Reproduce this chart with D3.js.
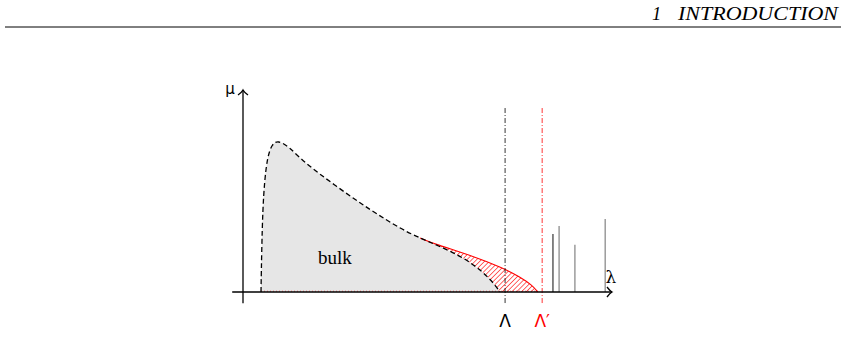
<!DOCTYPE html>
<html>
<head>
<meta charset="utf-8">
<script src="https://cdn.jsdelivr.net/npm/d3@7"></script>
<style>
  body { margin: 0; background: #fff; }
  svg { display: block; }
</style>
</head>
<body>
<div id="chart-area"></div>
<script>
// spectrum sketch: bulk density, outliers, edges
const bulkX = [0.5, 0.52, 0.55, 0.6, 0.68, 0.8, 0.97, 1.3, 1.67, 2.61, 3.53, 4.44, 4.92, 5.39, 6.11, 6.67, 7.0, 7.14];
const bulkY = [0, 1.2, 2.3, 3.1, 3.75, 4.1, 4.22, 4.02, 3.62, 2.92, 2.28, 1.72, 1.5, 1.3, 0.97, 0.56, 0.2, 0];
const shiftX = [4.92, 5.39, 6.31, 7.22, 7.69, 8.03, 8.19];
const shiftY = [1.5, 1.31, 1.03, 0.67, 0.42, 0.19, 0];
const spikeX = [8.61, 8.78, 9.22, 10.06];
const spikeY = [1.61, 1.83, 1.31, 2.03];
const spikeColor = ["#222", "#777", "#777", "#777"];
const edges = [7.28, 8.31];
const edgeLabels = ["Λ", "Λ′"];
const edgeColors = ["#000", "#ff0000"];

const width = 848, height = 355;

const svg = d3.select("#chart-area")
  .append("svg")
    .attr("width", width)
    .attr("height", height);

const x = d3.scaleLinear().domain([0, 10]).range([243, 603]);
const y = d3.scaleLinear().domain([0, 5]).range([292, 112]);

// header
svg.append("line")
    .attr("x1", 5).attr("x2", 841)
    .attr("y1", 27).attr("y2", 27)
    .attr("stroke", "#000").attr("stroke-width", 1);

svg.append("text")
    .attr("x", 652).attr("y", 20)
    .style("font-family", "'Liberation Serif', serif")
    .style("font-style", "italic")
    .style("font-size", "18.5px")
    .text("1");
svg.append("text")
    .attr("x", 678).attr("y", 20)
    .attr("textLength", 160)
    .attr("lengthAdjust", "spacingAndGlyphs")
    .style("font-family", "'Liberation Serif', serif")
    .style("font-style", "italic")
    .style("font-size", "18.5px")
    .text("INTRODUCTION");

const defs = svg.append("defs");
const hatch = defs.append("pattern")
    .attr("id", "hatch")
    .attr("patternUnits", "userSpaceOnUse")
    .attr("width", 3.4).attr("height", 3.4)
    .attr("patternTransform", "rotate(45)");
hatch.append("line")
    .attr("x1", 0).attr("x2", 0)
    .attr("y1", 0).attr("y2", 3.4)
    .attr("stroke", "#ff0000").attr("stroke-width", 1.2);

const bulk = bulkX.map((d, i) => [d, bulkY[i]]);
const shifted = shiftX.map((d, i) => [d, shiftY[i]]);

const area = d3.area()
    .x(d => x(d[0]))
    .y0(y(0))
    .y1(d => y(d[1]))
    .curve(d3.curveBasis);
const line = d3.line()
    .x(d => x(d[0]))
    .y(d => y(d[1]))
    .curve(d3.curveBasis);

// hatched region under the shifted edge
svg.append("path")
    .datum(shifted)
    .attr("d", area)
    .attr("fill", "url(#hatch)");

// bulk
svg.append("path")
    .datum(bulk)
    .attr("d", area)
    .attr("fill", "#e6e6e6");

svg.append("path")
    .datum(shifted)
    .attr("d", line)
    .attr("fill", "none")
    .attr("stroke", "#ff0000")
    .attr("stroke-width", 1.1);

svg.append("line")
    .attr("x1", x(0.5)).attr("x2", x(8.19))
    .attr("y1", y(0) - 0.8).attr("y2", y(0) - 0.8)
    .attr("stroke", "#ff0000")
    .attr("stroke-width", 0.6)
    .attr("stroke-dasharray", "1,2");

svg.append("path")
    .datum(bulk)
    .attr("d", line)
    .attr("fill", "none")
    .attr("stroke", "#000")
    .attr("stroke-width", 1.3)
    .attr("stroke-dasharray", "5,3");

// edges
svg.selectAll(".edge")
  .data(edges)
  .enter().append("line")
    .attr("class", "edge")
    .attr("x1", d => x(d)).attr("x2", d => x(d))
    .attr("y1", y(5.11)).attr("y2", y(-0.31))
    .attr("stroke", (d, i) => edgeColors[i])
    .attr("stroke-width", 0.8)
    .attr("stroke-dasharray", "5,2,1,2");

svg.selectAll(".edge-label")
  .data(edges)
  .enter().append("text")
    .attr("class", "edge-label")
    .attr("x", d => x(d))
    .attr("y", 327)
    .attr("text-anchor", "middle")
    .attr("fill", (d, i) => edgeColors[i])
    .style("font-family", "'DejaVu Sans', sans-serif")
    .style("font-size", "17px")
    .text((d, i) => edgeLabels[i]);

// outliers
svg.selectAll(".spike")
  .data(spikeX)
  .enter().append("line")
    .attr("class", "spike")
    .attr("x1", d => x(d)).attr("x2", d => x(d))
    .attr("y1", y(0)).attr("y2", (d, i) => y(spikeY[i]))
    .attr("stroke", (d, i) => spikeColor[i])
    .attr("stroke-width", 1.1);

// axes
svg.append("line")
    .attr("x1", x(-0.3)).attr("x2", x(10.25))
    .attr("y1", y(0)).attr("y2", y(0))
    .attr("stroke", "#000").attr("stroke-width", 1.3);
svg.append("line")
    .attr("x1", x(0)).attr("x2", x(0))
    .attr("y1", y(-0.31)).attr("y2", y(5.61))
    .attr("stroke", "#000").attr("stroke-width", 1.3);

const tipX = x(10.25), tipY = y(5.61);
svg.append("path")
    .attr("d", `M${tipX - 5},${y(0) - 5} Q${tipX - 2},${y(0) - 1} ${tipX},${y(0)} Q${tipX - 2},${y(0) + 1} ${tipX - 5},${y(0) + 5}`)
    .attr("fill", "none").attr("stroke", "#000").attr("stroke-width", 1.3);
svg.append("path")
    .attr("d", `M${x(0) - 5},${tipY + 5} Q${x(0) - 1},${tipY + 2} ${x(0)},${tipY} Q${x(0) + 1},${tipY + 2} ${x(0) + 5},${tipY + 5}`)
    .attr("fill", "none").attr("stroke", "#000").attr("stroke-width", 1.3);

svg.append("text")
    .attr("x", 230).attr("y", 94)
    .attr("text-anchor", "middle")
    .style("font-family", "'DejaVu Sans', sans-serif")
    .style("font-size", "15px")
    .text("μ");

svg.append("text")
    .attr("x", 611).attr("y", 283)
    .attr("text-anchor", "middle")
    .style("font-family", "'DejaVu Serif', serif")
    .style("font-size", "17px")
    .text("λ");

svg.append("text")
    .attr("x", x(2.55)).attr("y", 264)
    .attr("text-anchor", "middle")
    .style("font-family", "'Liberation Serif', serif")
    .style("font-size", "19px")
    .text("bulk");
</script>
</body>
</html>
